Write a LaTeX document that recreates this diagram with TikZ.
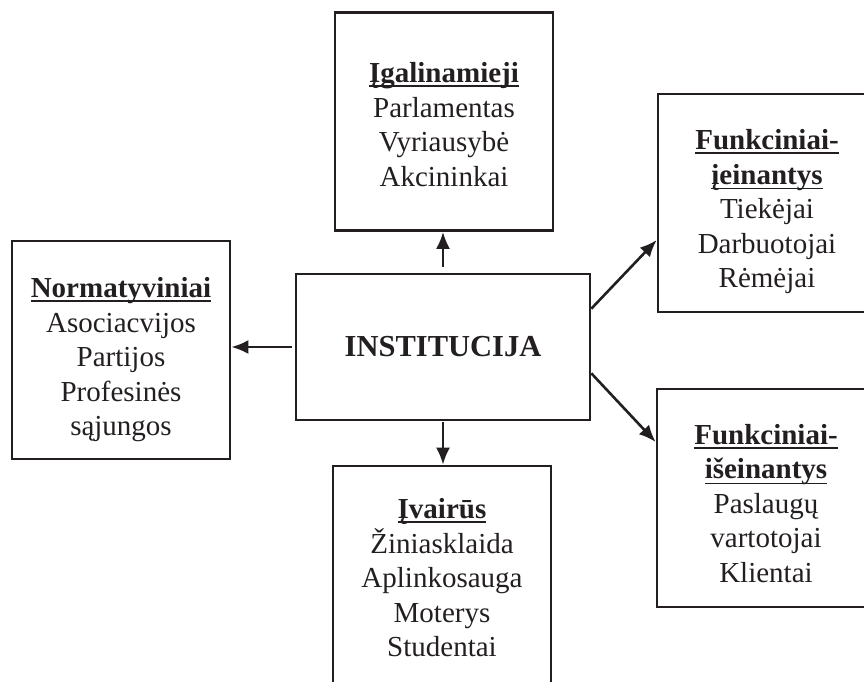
\documentclass[tikz,border=0pt]{standalone}
\usepackage{fontspec}
\setmainfont{Liberation Serif}
\usepackage{tikz}
\usetikzlibrary{arrows.meta}
\definecolor{ink}{RGB}{35,31,32}
\newsavebox{\hdrbox}
% underlined bold heading; #1 = extra room above the first line
\newcommand{\hdrline}[3]{\sbox{\hdrbox}{\bfseries #3}\rule{0pt}{\dimexpr 20pt+#1\relax}\rlap{\rule[-4.5pt]{\wd\hdrbox}{#2}}\usebox{\hdrbox}}
\newcommand{\hdr}[2][0pt]{\hdrline{#1}{2.2pt}{#2}}
\newcommand{\hdrthin}[1]{\hdrline{0pt}{0.8pt}{#1}}

\begin{document}
\begin{tikzpicture}[x=1pt, y=-1pt, ink,
    box/.style={draw, line width=2.6pt, minimum width=218pt, minimum height=218pt, inner sep=0pt, align=center, font=\fontsize{29}{34.5}\selectfont},
    arr/.style={line width=2.6pt, arrows={-{Latex[length=17pt,width=14pt]}}}]
    \clip (0,0) rectangle (864,681);
    \node [box, minimum width=294pt, minimum height=146pt, font=\fontsize{30.5}{34}\selectfont\bfseries] (inst) at (443,347) {INSTITUCIJA};
    \node [box] (top) at (444,121.5) {\hdr[6pt]{Įgalinamieji}\\ Parlamentas\\ Vyriausybė\\ Akcininkai};
    \node [box] (left) at (121,350) {\hdr[20pt]{Normatyviniai}\\ Asociacvijos\\ Partijos\\ Profesinės\\ sąjungos};
    \node [box] (bot) at (442,575) {\hdr[6pt]{Įvairūs}\\ Žiniasklaida\\ Aplinkosauga\\ Moterys\\ Studentai};
    \node [box] (rtop) at (767,203) {\hdr[18pt]{Funkciniai-}\\ \hdrthin{įeinantys}\\ Tiekėjai\\ Darbuotojai\\ Rėmėjai};
    \node [box] (rbot) at (766,498) {\hdr[11pt]{Funkciniai-}\\ \hdrthin{išeinantys}\\ Paslaugų\\ vartotojai\\ Klientai};
    % arrows out of the centre
    \draw [arr, shorten <=6pt] (inst.north) -- (inst.north |- top.south);
    \draw [arr, shorten <=3pt] (inst.west) -- (inst.west -| left.east);
    \draw [arr, shorten <=1pt] (inst.south) -- (inst.south |- bot.north);
    \draw [arr] ([yshift=-36pt]inst.north east) -- ([yshift=-37pt]rtop.west);
    \draw [arr] ([yshift=48pt]inst.south east) -- ([yshift=56pt]rbot.west);
\end{tikzpicture}
\end{document}
